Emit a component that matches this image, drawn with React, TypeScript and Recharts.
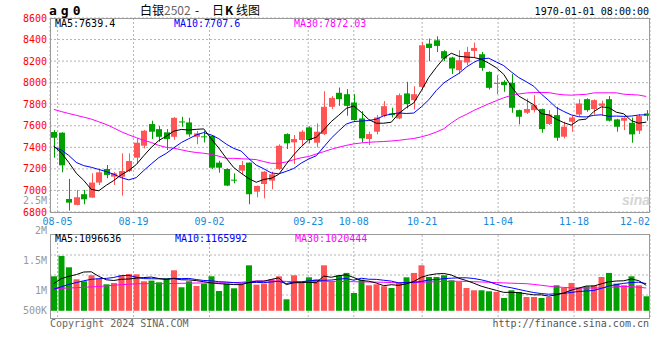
import { ComposedChart, Bar, Line, XAxis, YAxis, CartesianGrid, Cell } from 'recharts';

// ag0 / 白银2502 daily K, 2024-08-02 .. 2024-12-02 (80 sessions)
const OPEN = [
  7542, 7536, 6921, 6866, 6965, 6934, 7073, 7199, 7128, 7128,
  7180, 7304, 7415, 7616, 7569, 7539, 7498, 7640, 7631, 7498,
  7502, 7508, 7258, 7199, 7100, 7184, 7258, 6989, 7060, 7091,
  7199, 7523, 7446, 7468, 7585, 7443, 7523, 7776, 7906, 7893,
  7816, 7668, 7477, 7545, 7693, 7714, 7668, 7900, 7838, 7961,
  8362, 8393, 8292, 8233, 8116, 8187, 8295, 8264, 8100, 7992,
  8008, 7998, 7745, 7721, 7745, 7755, 7616, 7699, 7499, 7637,
  7705, 7847, 7755, 7786, 7847, 7659, 7647, 7628, 7554, 7714,
];
const HIGH = [
  7560, 7540, 7107, 7005, 7005, 7159, 7200, 7236, 7170, 7344,
  7344, 7483, 7560, 7647, 7597, 7569, 7680, 7684, 7674, 7551,
  7554, 7512, 7276, 7205, 7159, 7273, 7260, 7045, 7180, 7174,
  7428, 7530, 7514, 7560, 7595, 7622, 7921, 7875, 7955, 7940,
  7894, 7736, 7545, 7700, 7829, 7767, 7900, 8008, 7967, 8378,
  8409, 8430, 8301, 8240, 8301, 8332, 8372, 8285, 8105, 8069,
  8023, 8079, 7750, 7853, 7884, 7760, 7745, 7776, 7637, 7693,
  7847, 7855, 7845, 7832, 7875, 7665, 7680, 7677, 7708, 7745,
];
const LOW = [
  7304, 7168, 6813, 6862, 6872, 6930, 7050, 7113, 7051, 6952,
  7170, 7250, 7390, 7477, 7452, 7375, 7470, 7591, 7498, 7428,
  7446, 7199, 7165, 7040, 7066, 7150, 6872, 6937, 6927, 7011,
  7190, 7384, 7245, 7412, 7437, 7400, 7514, 7755, 7785, 7693,
  7647, 7446, 7421, 7520, 7680, 7677, 7660, 7761, 7752, 7931,
  8199, 8285, 8200, 8079, 8079, 8162, 8233, 8110, 7937, 7894,
  7915, 7721, 7613, 7710, 7724, 7535, 7607, 7461, 7483, 7545,
  7690, 7730, 7705, 7693, 7640, 7545, 7560, 7443, 7523, 7647,
];
const CLOSE = [
  7489, 7233, 6887, 6937, 6918, 7073, 7168, 7144, 7159, 7180,
  7273, 7443, 7554, 7545, 7498, 7477, 7674, 7636, 7520, 7529,
  7498, 7211, 7211, 7045, 7094, 7236, 6965, 7042, 7174, 7150,
  7415, 7437, 7477, 7545, 7468, 7545, 7776, 7859, 7847, 7785,
  7653, 7483, 7523, 7677, 7782, 7699, 7884, 7801, 7893, 8347,
  8322, 8341, 8224, 8131, 8208, 8285, 8322, 8137, 7952, 7998,
  7977, 7767, 7684, 7755, 7792, 7569, 7705, 7489, 7591, 7677,
  7807, 7745, 7838, 7807, 7647, 7591, 7674, 7520, 7690, 7693,
];
const MA5 = [
  7410, 7350, 7260, 7160, 7093, 7010, 6997, 7048, 7092, 7145,
  7185, 7240, 7322, 7399, 7463, 7503, 7550, 7566, 7561, 7567,
  7571, 7479, 7394, 7299, 7212, 7159, 7110, 7076, 7102, 7113,
  7149, 7244, 7331, 7406, 7470, 7494, 7562, 7639, 7698, 7761,
  7784, 7725, 7658, 7624, 7624, 7633, 7713, 7769, 7812, 7925,
  8049, 8141, 8225, 8273, 8245, 8238, 8234, 8217, 8181, 8139,
  8077, 7966, 7876, 7836, 7795, 7713, 7701, 7662, 7629, 7606,
  7654, 7662, 7732, 7775, 7769, 7726, 7711, 7648, 7624, 7634,
];
const MA10 = [
  7405, 7375, 7325, 7260, 7230, 7215, 7195, 7175, 7150, 7119,
  7098, 7119, 7185, 7246, 7304, 7344, 7395, 7444, 7480, 7515,
  7537, 7515, 7480, 7430, 7390, 7365, 7295, 7235, 7201, 7163,
  7154, 7177, 7204, 7254, 7292, 7322, 7403, 7485, 7552, 7616,
  7639, 7644, 7649, 7661, 7693, 7709, 7719, 7714, 7718, 7775,
  7841, 7927, 7997, 8043, 8085, 8144, 8188, 8221, 8227, 8192,
  8158, 8100, 8047, 8009, 7967, 7895, 7834, 7769, 7733, 7701,
  7684, 7682, 7697, 7702, 7688, 7690, 7687, 7690, 7700, 7702,
];
const MA30 = [
  7752, 7732, 7714, 7697, 7680, 7662, 7637, 7612, 7580, 7545,
  7516, 7490, 7465, 7445, 7418, 7400, 7392, 7377, 7362, 7352,
  7345, 7335, 7318, 7298, 7298, 7294, 7291, 7286, 7268, 7252,
  7252, 7264, 7285, 7303, 7315, 7338, 7360, 7382, 7401, 7418,
  7432, 7441, 7447, 7451, 7454, 7459, 7465, 7474, 7482, 7497,
  7516, 7542, 7572, 7626, 7672, 7705, 7742, 7773, 7804, 7832,
  7860, 7882, 7895, 7904, 7909, 7909, 7908, 7895, 7887, 7884,
  7888, 7892, 7905, 7906, 7906, 7906, 7893, 7889, 7885, 7872,
];

// volume, in thousands of lots
const VOLUME = [
  1245, 1584, 1395, 1195, 1162, 1262, 1206, 1112, 1134, 1262,
  1284, 1278, 1162, 1173, 1145, 1212, 1345, 1062, 1162, 1084,
  1123, 1245, 1000, 1123, 1045, 1112, 1428, 1106, 1123, 1195,
  1245, 862, 1262, 1134, 1228, 1195, 1428, 1162, 1262, 1301,
  967, 1189, 1095, 1112, 1078, 1050, 1134, 1228, 1301, 1428,
  1234, 1234, 1262, 1178, 1150, 1050, 1012, 1012, 995, 984,
  884, 1012, 984, 900, 900, 884, 900, 1095, 1050, 1134,
  1056, 1078, 1095, 1234, 1301, 1123, 1095, 1245, 1095, 912,
];
const VOL_MA5 = [
  1123, 1206, 1245, 1273, 1316, 1320, 1244, 1187, 1175, 1195,
  1200, 1214, 1224, 1232, 1208, 1194, 1207, 1187, 1185, 1173,
  1155, 1135, 1123, 1115, 1107, 1105, 1142, 1163, 1163, 1193,
  1219, 1106, 1137, 1140, 1146, 1136, 1249, 1229, 1255, 1270,
  1224, 1176, 1163, 1133, 1088, 1105, 1094, 1120, 1158, 1228,
  1265, 1285, 1292, 1267, 1212, 1175, 1130, 1080, 1044, 1011,
  977, 977, 972, 953, 936, 936, 914, 936, 966, 1013,
  1047, 1083, 1083, 1119, 1153, 1166, 1170, 1200, 1172, 1094,
];
const VOL_MA10 = [
  1030, 1070, 1110, 1140, 1170, 1195, 1205, 1210, 1225, 1256,
  1260, 1229, 1206, 1204, 1202, 1197, 1211, 1206, 1209, 1191,
  1175, 1171, 1155, 1150, 1140, 1130, 1139, 1143, 1139, 1150,
  1162, 1124, 1150, 1152, 1170, 1178, 1178, 1183, 1198, 1208,
  1180, 1213, 1196, 1194, 1179, 1165, 1135, 1142, 1146, 1158,
  1185, 1190, 1206, 1213, 1220, 1220, 1208, 1186, 1156, 1112,
  1076, 1054, 1026, 999, 974, 957, 946, 954, 960, 975,
  992, 999, 1010, 1043, 1083, 1107, 1127, 1142, 1146, 1124,
];
const VOL_MA30 = [
  1042, 1045, 1050, 1055, 1062, 1068, 1075, 1085, 1095, 1105,
  1112, 1120, 1122, 1123, 1123, 1123, 1125, 1128, 1130, 1133,
  1134, 1135, 1136, 1137, 1139, 1145, 1158, 1167, 1167, 1167,
  1165, 1160, 1155, 1150, 1153, 1157, 1160, 1162, 1160, 1157,
  1155, 1152, 1150, 1148, 1145, 1140, 1136, 1136, 1140, 1145,
  1150, 1155, 1158, 1162, 1162, 1160, 1155, 1150, 1145, 1140,
  1135, 1130, 1126, 1122, 1110, 1095, 1080, 1068, 1060, 1052,
  1050, 1050, 1050, 1052, 1060, 1070, 1078, 1072, 1062, 1050,
];

const DATE_LABELS = ['08-05', '08-19', '09-02', '09-23', '10-08', '10-21', '11-04', '11-18', '12-02'];
const DATE_SLOTS = [1, 11, 21, 34, 40, 49, 59, 69, 79];
const PRICE_TICKS = [6800, 7000, 7200, 7400, 7600, 7800, 8000, 8200, 8400, 8600];
const VOL_TICKS = [500, 1000, 1500, 2000, 2500];

const N = CLOSE.length;
// sina spaces its date grid by width/(n-1) while the candles use width/n
const DATE_TICKS = DATE_SLOTS.map((s) => -0.5 + (s * N) / (N - 1));
const VOL_FLOOR = 670;

const RED = '#ff5555';
const GREEN = '#00a000';
const GRID = '#b4b4b4';
const MONO = '"DejaVu Sans Mono", monospace';

const rows = CLOSE.map((close, i) => ({
  i,
  open: OPEN[i],
  high: HIGH[i],
  low: LOW[i],
  close,
  ma5: MA5[i],
  ma10: MA10[i],
  ma30: MA30[i],
  vol: VOLUME[i],
  vma5: VOL_MA5[i],
  vma10: VOL_MA10[i],
  vma30: VOL_MA30[i],
}));

function Candle(props: any) {
  const { x, y, width, height, payload } = props;
  const { open, close, high, low } = payload;
  const color = close >= open ? RED : GREEN;
  const k = high > low ? height / (high - low) : 0;
  const at = (v: number) => y + (high - v) * k;
  const top = at(Math.max(open, close));
  const bottom = at(Math.min(open, close));
  const left = Math.round(x);
  const w = Math.round(width);
  const cx = left + Math.floor(w / 2) + 0.5;
  return (
    <g>
      <line x1={cx} x2={cx} y1={y} y2={y + height} stroke={color} strokeWidth={1} />
      <rect x={left} y={top} width={w} height={Math.max(1, bottom - top)} fill={color} />
    </g>
  );
}

function DateTick(props: any) {
  const { x, y, index } = props;
  const last = index === DATE_LABELS.length - 1;
  return (
    <text x={x} y={y} dy={12.5} textAnchor={last ? 'end' : 'middle'} fill="#1a88d8" fontSize={10} fontFamily={MONO}>
      {DATE_LABELS[index]}
    </text>
  );
}

function VolTick(props: any) {
  const { x, y, payload } = props;
  const v = payload.value;
  const label = v >= 1000 ? `${v / 1000}M` : `${v}K`;
  return (
    <text x={x} y={Math.min(y, 310.5)} dy={3.5} textAnchor="end" fill="#999" fontSize={10} fontFamily={MONO}>
      {label}
    </text>
  );
}

export default function App() {
  return (
    <div style={{ position: 'absolute', left: 0, top: 0, width: 660, height: 360, background: '#fff' }}>
      <div style={{ position: 'absolute', left: 0, top: 0 }}>
        <ComposedChart width={660} height={232} data={rows} margin={{ top: 18, right: 10, bottom: 0, left: 0 }}>
          <CartesianGrid stroke={GRID} strokeDasharray="2 2" />
          <XAxis
            type="number"
            dataKey="i"
            domain={[-0.5, N - 0.5]}
            allowDataOverflow
            ticks={DATE_TICKS}
            interval={0}
            tick={DateTick}
            tickSize={0}
            tickMargin={0}
            tickLine={false}
            axisLine={false}
            height={20}
          />
          <YAxis
            domain={[6800, 8600]}
            allowDataOverflow
            ticks={PRICE_TICKS}
            interval={0}
            width={50}
            tickSize={0}
            tickMargin={3}
            tickLine={false}
            axisLine={false}
            tick={{ fill: '#ff0000', fontSize: 10, fontFamily: MONO }}
          />
          <Bar dataKey={(d: any) => [d.low, d.high]} barSize={6} shape={Candle} isAnimationActive={false} />
          <Line type="linear" dataKey="ma30" stroke="#ff00ff" strokeWidth={1} dot={false} isAnimationActive={false} />
          <Line type="linear" dataKey="ma10" stroke="#0000ff" strokeWidth={1} dot={false} isAnimationActive={false} />
          <Line type="linear" dataKey="ma5" stroke="#000000" strokeWidth={1} dot={false} isAnimationActive={false} />
        </ComposedChart>
      </div>

      <div style={{ position: 'absolute', left: 0, top: 0 }}>
        <ComposedChart width={660} height={360} data={rows} margin={{ top: 235, right: 10, bottom: 42, left: 0 }}>
          <CartesianGrid
            stroke={GRID}
            strokeDasharray="2 2"
            horizontalPoints={[255, 275, 295]}
            verticalPoints={DATE_SLOTS.map((s) => 50 + (600 * s) / (N - 1))}
          />
          <XAxis type="number" dataKey="i" domain={[-0.5, N - 0.5]} allowDataOverflow hide />
          <YAxis
            domain={[550, 1933]}
            allowDataOverflow
            ticks={VOL_TICKS}
            interval={0}
            width={50}
            tickSize={0}
            tickMargin={3}
            tickLine={false}
            axisLine={false}
            tick={VolTick}
          />
          <Bar dataKey={(d: any) => [VOL_FLOOR, d.vol]} barSize={6} isAnimationActive={false}>
            {rows.map((r) => (
              <Cell key={r.i} fill={r.close >= r.open ? RED : GREEN} />
            ))}
          </Bar>
          <Line type="linear" dataKey="vma30" stroke="#ff00ff" strokeWidth={1} dot={false} isAnimationActive={false} />
          <Line type="linear" dataKey="vma10" stroke="#0000ff" strokeWidth={1} dot={false} isAnimationActive={false} />
          <Line type="linear" dataKey="vma5" stroke="#000000" strokeWidth={1} dot={false} isAnimationActive={false} />
        </ComposedChart>
      </div>

      <svg width={660} height={360} style={{ position: 'absolute', left: 0, top: 0, pointerEvents: 'none' }}>
        <rect x={50.5} y={18.5} width={599} height={194} fill="none" stroke="#999" />
        <rect x={50.5} y={234.5} width={599} height={84} fill="none" stroke="#999" />

        <text x={49} y={15} fontSize={13} fontWeight="bold" fontFamily={MONO} letterSpacing={4} fill="#000">ag0</text>
        <text y={15} fontSize={12} fontFamily='"Noto Sans CJK SC", sans-serif' fill="#000">
          <tspan x={140}>白银</tspan>
          <tspan fill="#666">2502</tspan>
          <tspan x={195}>-</tspan>
          <tspan x={212}>日</tspan>
          <tspan x={225} fontWeight="bold">K</tspan>
          <tspan x={236}>线图</tspan>
        </text>
        <text x={649} y={15} textAnchor="end" fontSize={10} fontFamily={MONO} fill="#000">1970-01-01 08:00:00</text>

        <text x={55} y={27} fontSize={10} fontFamily={MONO} fill="#000">MA5:7639.4</text>
        <text x={174} y={27} fontSize={10} fontFamily={MONO} fill="#0000ff">MA10:7707.6</text>
        <text x={294} y={27} fontSize={10} fontFamily={MONO} fill="#ff00ff">MA30:7872.03</text>

        <text x={55} y={242} fontSize={10} fontFamily={MONO} fill="#000">MA5:1096636</text>
        <text x={175} y={242} fontSize={10} fontFamily={MONO} fill="#0000ff">MA10:1165992</text>
        <text x={295} y={242} fontSize={10} fontFamily={MONO} fill="#ff00ff">MA30:1020444</text>

        <text x={622} y={205} fontSize={14} fontStyle="italic" fontWeight="bold" fontFamily="sans-serif" fill="#d4d4d4">sina</text>

        <text x={50} y={327} fontSize={10} fontFamily={MONO} fill="#666">Copyright 2024 SINA.COM</text>
        <text x={649} y={327} textAnchor="end" fontSize={10} fontFamily={MONO} fill="#555">http://finance.sina.com.cn</text>
      </svg>
    </div>
  );
}
